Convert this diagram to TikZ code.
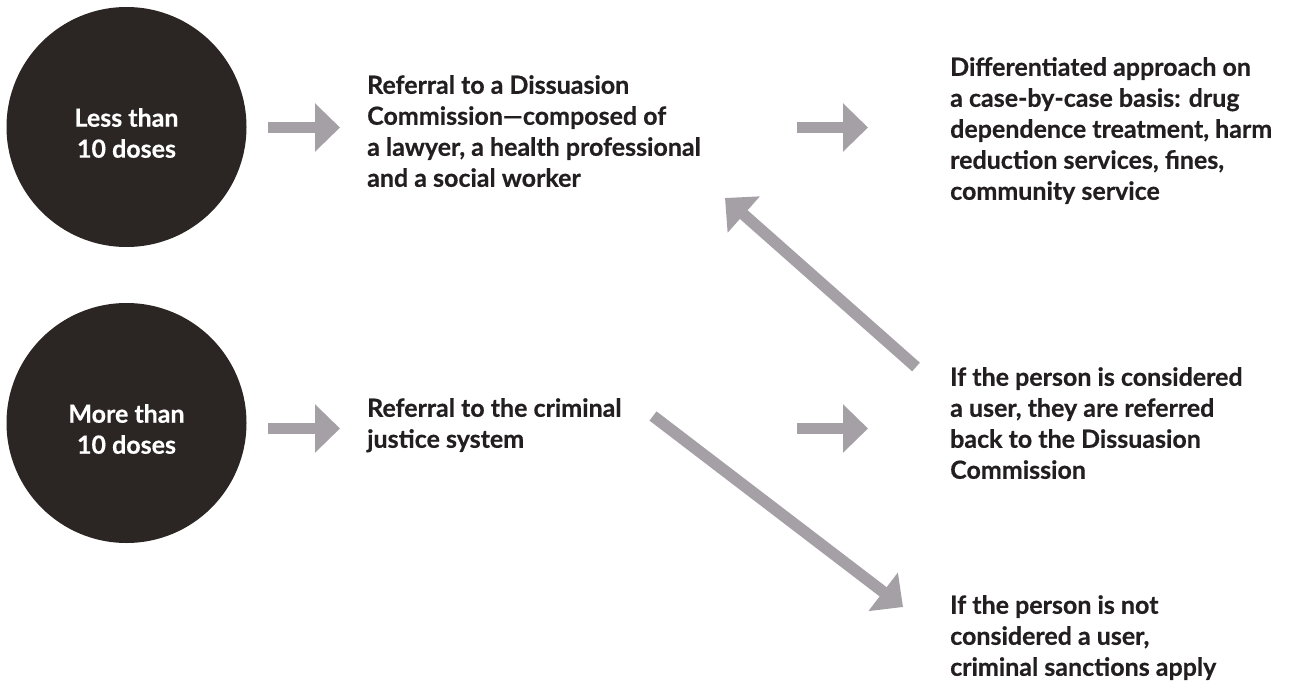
\documentclass[tikz,border=0pt]{standalone}
\usepackage{fontspec}
\setmainfont{Lato}[BoldFeatures={FakeBold=0.5}]
\usetikzlibrary{arrows.meta}
\definecolor{dosefill}{RGB}{43,37,35}
\definecolor{arrowgrey}{RGB}{165,159,166}
\definecolor{inkblack}{RGB}{35,31,32}
\tikzset{
  dose/.style={circle, fill=dosefill, minimum size=240pt, inner sep=0pt},
  dosetext/.style={text=white, align=center, inner sep=0pt, font=\bfseries\fontsize{25}{31}\selectfont},
  outcome/.style={text=inkblack, align=left, anchor=north west, inner sep=0pt, font=\bfseries\fontsize{25}{31}\selectfont},
  flow/.style={draw=arrowgrey, line width=11.6pt, -{Triangle[width=47pt,length=25pt]}}
}
\begin{document}
\begin{tikzpicture}[x=1pt,y=-1pt]
\useasboundingbox (0,0) rectangle (1298,687);
% the two starting cases
\node[dose] (less) at (126.5,127) {};
\node[dosetext] (lesslbl) at (126.5,133) {Less than\\10 doses};
\node[dose] (more) at (126.5,423) {};
\node[dosetext] (morelbl) at (126.5,429) {More than\\10 doses};
% texts
\node[outcome] (commission) at (367,75) {Referral to a Dissuasion\\Commission---composed of\\a lawyer, a health professional\\and a social worker};
\node[outcome] (approach) at (950,57) {Differentiated approach on\\a case-by-case basis: drug\\dependence treatment, harm\\reduction services, fines,\\community service};
\node[outcome] (justice) at (367,398) {Referral to the criminal\\justice system};
\node[outcome] (user) at (950,367) {If the person is considered\\a user, they are referred\\back to the Dissuasion\\Commission};
\node[outcome] (nonuser) at (950,595) {If the person is not\\considered a user,\\criminal sanctions apply};
% arrows
\coordinate (a1) at (268,127.5);
\coordinate (a2) at (797,127.5);
\coordinate (a3) at (268,428.5);
\coordinate (a4) at (797,428.5);
\coordinate (down) at (653,416);
\coordinate (downtip) at (903,607);
\coordinate (up) at (916,367);
\coordinate (uptip) at (725,198);
\draw[flow] (a1) -- ++(72,0);
\draw[flow] (a2) -- ++(71,0);
\draw[flow] (a3) -- ++(72,0);
\draw[flow] (a4) -- ++(71,0);
\draw[flow] (down) -- (downtip);
\draw[flow] (up) -- (uptip);
\end{tikzpicture}
\end{document}
